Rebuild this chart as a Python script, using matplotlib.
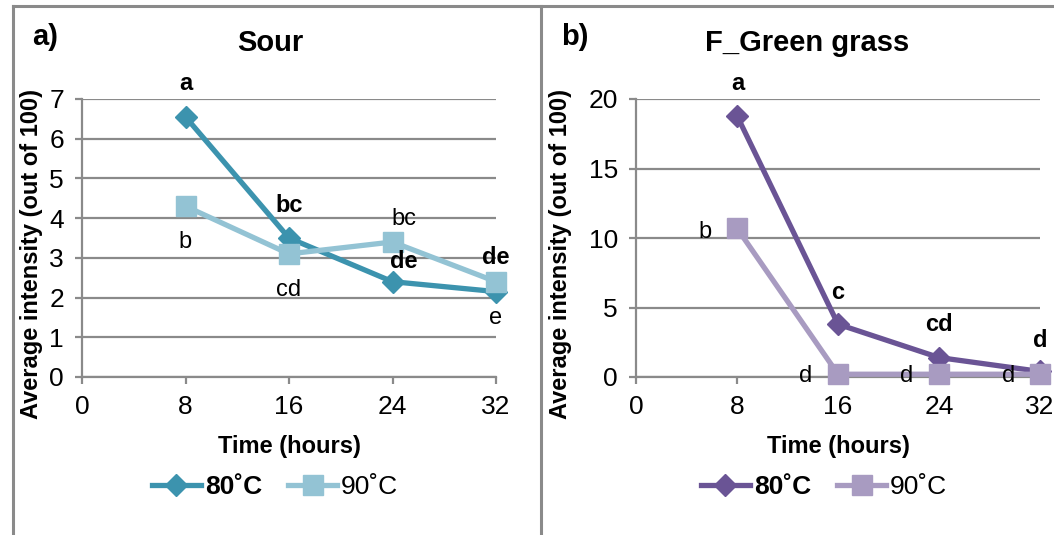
import numpy as np
import matplotlib
matplotlib.use("Agg")
import matplotlib.pyplot as plt
from matplotlib.lines import Line2D

plt.rcParams['font.family'] = ['Liberation Sans', 'DejaVu Sans']

# data
hours = [8, 16, 24, 32]
sour_80 = [6.55, 3.5, 2.4, 2.15]
sour_90 = [4.3, 3.1, 3.4, 2.4]
grass_80 = [18.8, 3.8, 1.4, 0.4]
grass_90 = [10.7, 0.2, 0.2, 0.2]

# significance letters: (x, y, text, bold)
sour_letters = [(8, 7.4, 'a', True), (8, 3.4, 'b', False),
                (16, 4.31, 'bc', True), (16, 2.19, 'cd', False),
                (24.9, 3.98, 'bc', False), (24.9, 2.9, 'de', True),
                (32, 3.0, 'de', True), (32, 1.49, 'e', False)]
grass_letters = [(8.1, 21.15, 'a', True), (5.47, 10.43, 'b', False),
                 (16, 6.1, 'c', True), (24, 3.8, 'cd', True),
                 (32, 2.66, 'd', True), (13.47, 0.05, 'd', False),
                 (21.47, 0.05, 'd', False), (29.5, 0.05, 'd', False)]

W, H = 1054, 535
fig = plt.figure(figsize=(W / 100, H / 100), dpi=100)

grid_c = '#8a8a8a'


def fx(px):
    return px / W


def fy(py):
    return 1 - py / H


# panel frames
fig.add_artist(Line2D([fx(13), fx(1054)], [fy(6), fy(6)], color=grid_c, lw=2.2))
fig.add_artist(Line2D([fx(13), fx(13)], [fy(6), 0], color=grid_c, lw=2.2))
fig.add_artist(Line2D([fx(541), fx(541)], [fy(6), 0], color=grid_c, lw=2.2))


def panel(left, right, y80, y90, ymax, ystep, c80, c90, letters,
          title, title_x, tag, tag_x, ylab_x):
    ax = fig.add_axes([fx(left), fy(377), fx(right - left), fy(99) - fy(377)])
    ax.plot(hours, y80, color=c80, lw=3.8, marker='D', ms=11, clip_on=False, zorder=3)
    ax.plot(hours, y90, color=c90, lw=3.8, marker='s', ms=14, clip_on=False, zorder=3)
    ax.set_xlim(0, 32)
    ax.set_ylim(0, ymax)
    ax.set_xticks([0, 8, 16, 24, 32])
    ax.set_yticks(np.arange(0, ymax + 0.01, ystep))
    ax.grid(axis='y', color=grid_c, lw=1.6)
    ax.set_axisbelow(True)
    for s in ['top', 'right']:
        ax.spines[s].set_visible(False)
    for s in ['left', 'bottom']:
        ax.spines[s].set_color(grid_c)
        ax.spines[s].set_linewidth(1.6)
    ax.tick_params(axis='both', colors=grid_c, length=5, width=1.6,
                   labelsize=19, labelcolor='black', pad=8)
    for x, y, t, b in letters:
        ax.text(x, y, t, ha='center', va='center', fontsize=17,
                fontweight='bold' if b else 'normal', clip_on=False)
    cx = (left + right) / 2
    fig.text(fx(title_x), fy(43), title, ha='center', va='center',
             fontsize=21, fontweight='bold')
    fig.text(fx(tag_x), fy(37), tag, ha='center', va='center',
             fontsize=21, fontweight='bold')
    fig.text(fx(ylab_x), fy(254), 'Average intensity (out of 100)', rotation=90,
             ha='center', va='center', fontsize=17, fontweight='bold')
    fig.text(fx(cx), fy(446), 'Time (hours)', ha='center', va='center',
             fontsize=17, fontweight='bold')
    h80 = Line2D([], [], color=c80, lw=3.8, marker='D', ms=11)
    h90 = Line2D([], [], color=c90, lw=3.8, marker='s', ms=14)
    leg = fig.legend([h80, h90], ['80˚C', '90˚C'], loc='center',
                     bbox_to_anchor=(fx(cx - 14), fy(487)), ncol=2, frameon=False,
                     fontsize=19, handlelength=1.85, handletextpad=0.15,
                     columnspacing=1.0)
    leg.get_texts()[0].set_fontweight('bold')
    return ax


panel(82, 496, sour_80, sour_90, 7, 1, '#3c93ae', '#93c3d4', sour_letters,
      'Sour', 270, 'a)', 45, 32)
panel(636, 1040, grass_80, grass_90, 20, 5, '#6a5495', '#a89bc1', grass_letters,
      'F_Green grass', 807, 'b)', 575, 560)

fig.savefig('out.png', dpi=100)
